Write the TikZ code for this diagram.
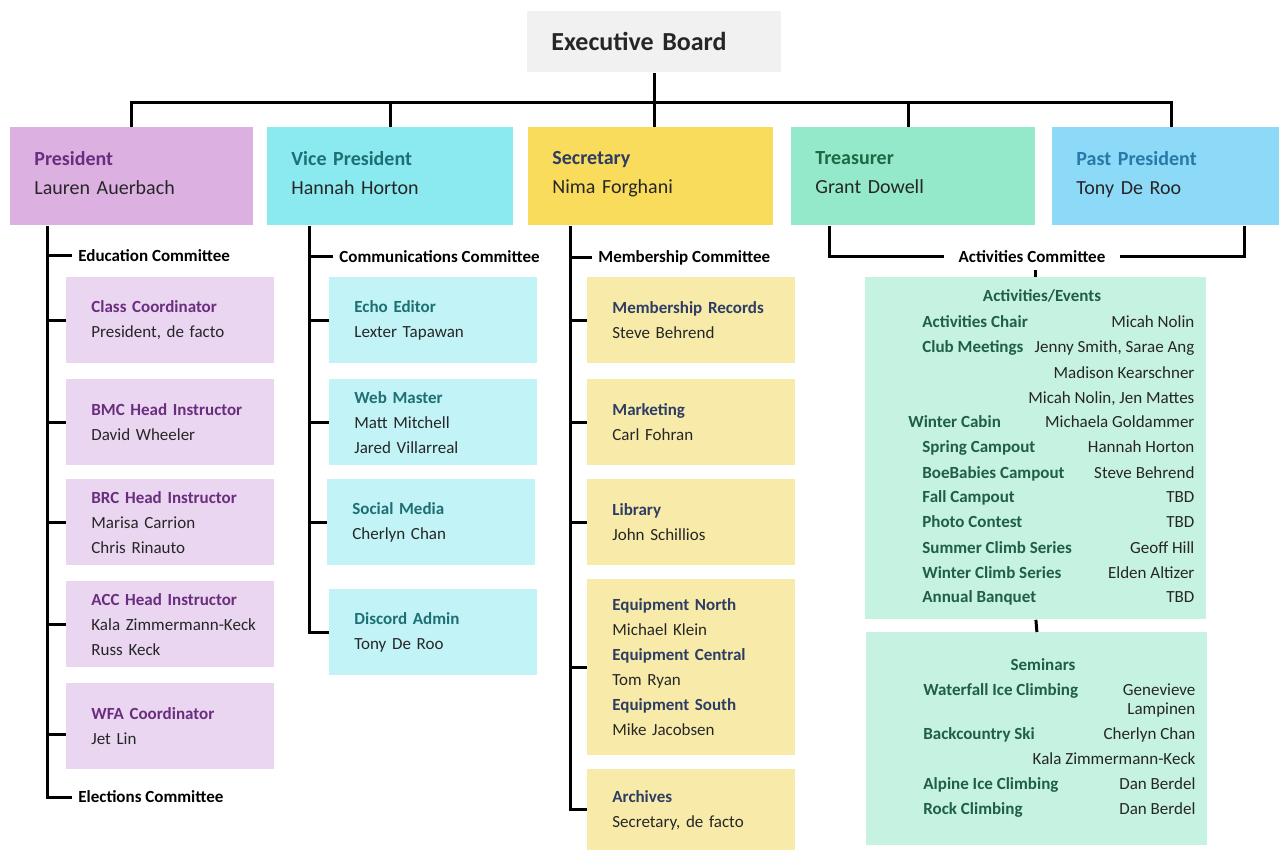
\documentclass[tikz,border=0pt]{standalone}
\usepackage{fontspec}
\setmainfont{Carlito}

\definecolor{ink}{HTML}{262626}
\definecolor{boardgray}{HTML}{F1F1F1}
\definecolor{presfill}{HTML}{DDB0E2}
\definecolor{vpfill}{HTML}{8AEAF0}
\definecolor{secfill}{HTML}{F9DC5C}
\definecolor{trefill}{HTML}{93E9C9}
\definecolor{pastfill}{HTML}{8DDAF8}
\definecolor{presbox}{HTML}{EAD6F1}
\definecolor{vpbox}{HTML}{C2F4F7}
\definecolor{secbox}{HTML}{F8EBAA}
\definecolor{actbox}{HTML}{C6F2E2}
\definecolor{prestxt}{HTML}{6A2E7E}
\definecolor{vptxt}{HTML}{1D6F74}
\definecolor{sectxt}{HTML}{2E3D63}
\definecolor{tretxt}{HTML}{1E6846}
\definecolor{pasttxt}{HTML}{2878A8}
\definecolor{actrole}{HTML}{1F5F45}

\newcommand{\ttl}[2]{\textcolor{#1}{\textbf{#2}}}

\begin{document}
\begin{tikzpicture}[x=0.5pt, y=-0.5pt,
    font=\fontsize{8.5}{12.5}\selectfont, text=ink,
    board/.style={fill=boardgray, anchor=north west, align=left, text width=103pt,
                  minimum height=30.5pt, inner xsep=12pt, inner ysep=0pt,
                  font=\fontsize{13}{15}\selectfont\bfseries},
    officer/.style={anchor=north west, align=left, text width=#1, minimum height=49pt,
                    inner xsep=12pt, inner ysep=0pt, text depth=18pt,
                    font=\fontsize{10}{14.5}\selectfont},
    role/.style={anchor=north west, align=left, text width=79pt, minimum height=43pt,
                 inner xsep=12.5pt, inner ysep=0pt},
    cmt/.style={anchor=west, inner xsep=3pt, text=black,
                font=\fontsize{8.5}{12.5}\selectfont\bfseries},
    panel/.style={fill=actbox, anchor=north west, minimum width=170.5pt, inner sep=0pt},
    rows/.style={anchor=base west, inner sep=0pt},
    wire/.style={draw, line width=1.5pt}]

  \path[fill=white] (0,0) rectangle (1279,850);
  \useasboundingbox (0,0) rectangle (1279,850);

  % board and officers
  \node[board] (board) at (527,11) {Executive Board};

  \node[officer=97.5pt, fill=presfill] (pres) at (10,127)
    {\ttl{prestxt}{President}\\ Lauren Auerbach};
  \node[officer=99pt, fill=vpfill] (vp) at (267,127)
    {\ttl{vptxt}{Vice President}\\ Hannah Horton};
  \node[officer=98.5pt, fill=secfill] (sec) at (528,127)
    {\ttl{sectxt}{Secretary}\\ Nima Forghani};
  \node[officer=98pt, fill=trefill] (tre) at (791,127)
    {\ttl{tretxt}{Treasurer}\\ Grant Dowell};
  \node[officer=89.5pt, fill=pastfill] (past) at (1052,127)
    {\ttl{pasttxt}{Past President}\\ Tony De Roo};

  % education
  \node[cmt] (educ) at (72,256) {Education Committee};
  \node[role, fill=presbox] (cc) at (66,277)
    {\ttl{prestxt}{Class Coordinator}\\ President, de facto};
  \node[role, fill=presbox] (bmc) at (66,379)
    {\ttl{prestxt}{BMC Head Instructor}\\ David Wheeler};
  \node[role, fill=presbox] (brc) at (66,479)
    {\ttl{prestxt}{BRC Head Instructor}\\ Marisa Carrion\\ Chris Rinauto};
  \node[role, fill=presbox] (acc) at (66,581)
    {\ttl{prestxt}{ACC Head Instructor}\\ \mbox{Kala Zimmermann-Keck}\\ Russ Keck};
  \node[role, fill=presbox] (wfa) at (66,683)
    {\ttl{prestxt}{WFA Coordinator}\\ Jet Lin};
  \node[cmt] (elec) at (72,797) {Elections Committee};

  % communications
  \node[cmt] (comm) at (333,257) {Communications Committee};
  \node[role, fill=vpbox] (echo) at (329,277)
    {\ttl{vptxt}{Echo Editor}\\ Lexter Tapawan};
  \node[role, fill=vpbox] (web) at (329,379)
    {\ttl{vptxt}{Web Master}\\ Matt Mitchell\\ Jared Villarreal};
  \node[role, fill=vpbox] (social) at (327,479)
    {\ttl{vptxt}{Social Media}\\ Cherlyn Chan};
  \node[role, fill=vpbox] (discord) at (329,589)
    {\ttl{vptxt}{Discord Admin}\\ Tony De Roo};

  % membership
  \node[cmt] (memb) at (592,258) {Membership Committee};
  \node[role, fill=secbox] (recs) at (587,277)
    {\ttl{sectxt}{Membership Records}\\ Steve Behrend};
  \node[role, fill=secbox] (mkt) at (587,379)
    {\ttl{sectxt}{Marketing}\\ Carl Fohran};
  \node[role, fill=secbox] (lib) at (587,479)
    {\ttl{sectxt}{Library}\\ John Schillios};
  \node[role, fill=secbox, minimum height=88pt] (equip) at (587,579)
    {\ttl{sectxt}{Equipment North}\\ Michael Klein\\
     \ttl{sectxt}{Equipment Central}\\ Tom Ryan\\
     \ttl{sectxt}{Equipment South}\\ Mike Jacobsen};
  \node[role, fill=secbox, minimum height=40.5pt] (arch) at (587,769)
    {\ttl{sectxt}{Archives}\\ Secretary, de facto};

  % activities
  \node[cmt, anchor=center, inner xsep=7pt] (acts) at (1032,257) {Activities Committee};
  \node[panel, minimum height=171pt] (events) at (865,277) {};
  \node[anchor=base, font=\fontsize{8.5}{12.5}\selectfont\bfseries, text=actrole]
    (eventsT) at (1042,301) {Activities/Events};
  \node[rows] (eventsL) at (922,328)
    {\begin{tabular}[t]{@{}p{136pt}@{}}
     \ttl{actrole}{Activities Chair}\hfill Micah Nolin\\
     \ttl{actrole}{Club Meetings}\hfill Jenny Smith, Sarae Ang\\
     \hspace*{\fill}Madison Kearschner\\
     \hspace*{\fill}Micah Nolin, Jen Mattes\\
     \hspace*{-7pt}\ttl{actrole}{Winter Cabin}\hfill Michaela Goldammer\\
     \ttl{actrole}{Spring Campout}\hfill Hannah Horton\\
     \ttl{actrole}{BoeBabies Campout}\hfill Steve Behrend\\
     \ttl{actrole}{Fall Campout}\hfill TBD\\
     \ttl{actrole}{Photo Contest}\hfill TBD\\
     \ttl{actrole}{Summer Climb Series}\hfill Geoff Hill\\
     \ttl{actrole}{Winter Climb Series}\hfill Elden Altizer\\
     \ttl{actrole}{Annual Banquet}\hfill TBD
     \end{tabular}};

  \node[panel, minimum height=106.5pt] (seminars) at (866,632) {};
  \node[anchor=base, font=\fontsize{8.5}{12.5}\selectfont\bfseries, text=actrole]
    (seminarsT) at (1043,670) {Seminars};
  \node[rows] (seminarsL) at (923,695)
    {\begin{tabular}[t]{@{}p{136pt}@{}}
     \ttl{actrole}{Waterfall Ice Climbing}\hfill Genevieve\\[-3pt]
     \hspace*{\fill}Lampinen\\
     \ttl{actrole}{Backcountry Ski}\hfill Cherlyn Chan\\
     \hspace*{\fill}Kala Zimmermann-Keck\\
     \ttl{actrole}{Alpine Ice Climbing}\hfill Dan Berdel\\
     \ttl{actrole}{Rock Climbing}\hfill Dan Berdel
     \end{tabular}};

  % top bus
  \coordinate (bus) at (654,103);
  \draw[wire] (board.south) -- (board.south |- sec.north);
  \draw[wire] (pres.north) |- (bus) -| ([xshift=3pt]past.north);
  \draw[wire] (vp.north) -- (vp.north |- bus);
  \draw[wire] ([xshift=-2.5pt]tre.north) -- ([xshift=-2.5pt]tre.north |- bus);

  % spines
  \coordinate (ps) at ([xshift=18.5pt]pres.south west);
  \coordinate (wfatick) at ([yshift=-4pt]wfa.west);
  \draw[wire] (ps) |- (elec.west);
  \foreach \n in {educ,cc,bmc,brc,acc,wfatick}
    \draw[wire] (ps |- \n) -- (\n);

  \coordinate (vs) at ([xshift=21pt]vp.south west);
  \draw[wire] (vs) |- (discord.west);
  \foreach \n in {comm,echo,web,social}
    \draw[wire] (vs |- \n.west) -- (\n.west);

  \coordinate (ss) at ([xshift=21pt]sec.south west);
  \draw[wire] (ss) |- (arch.west);
  \foreach \n in {memb,recs,mkt,lib,equip}
    \draw[wire] (ss |- \n.west) -- (\n.west);

  \draw[wire] ([xshift=19pt]tre.south west) |- (acts.west);
  \draw[wire] (acts.east) -| ([xshift=96pt]past.south west);
  \draw[wire] (acts.south -| events.north) -- (events.north);
  \draw[wire] (events.south) -- (seminars.north);
\end{tikzpicture}
\end{document}
